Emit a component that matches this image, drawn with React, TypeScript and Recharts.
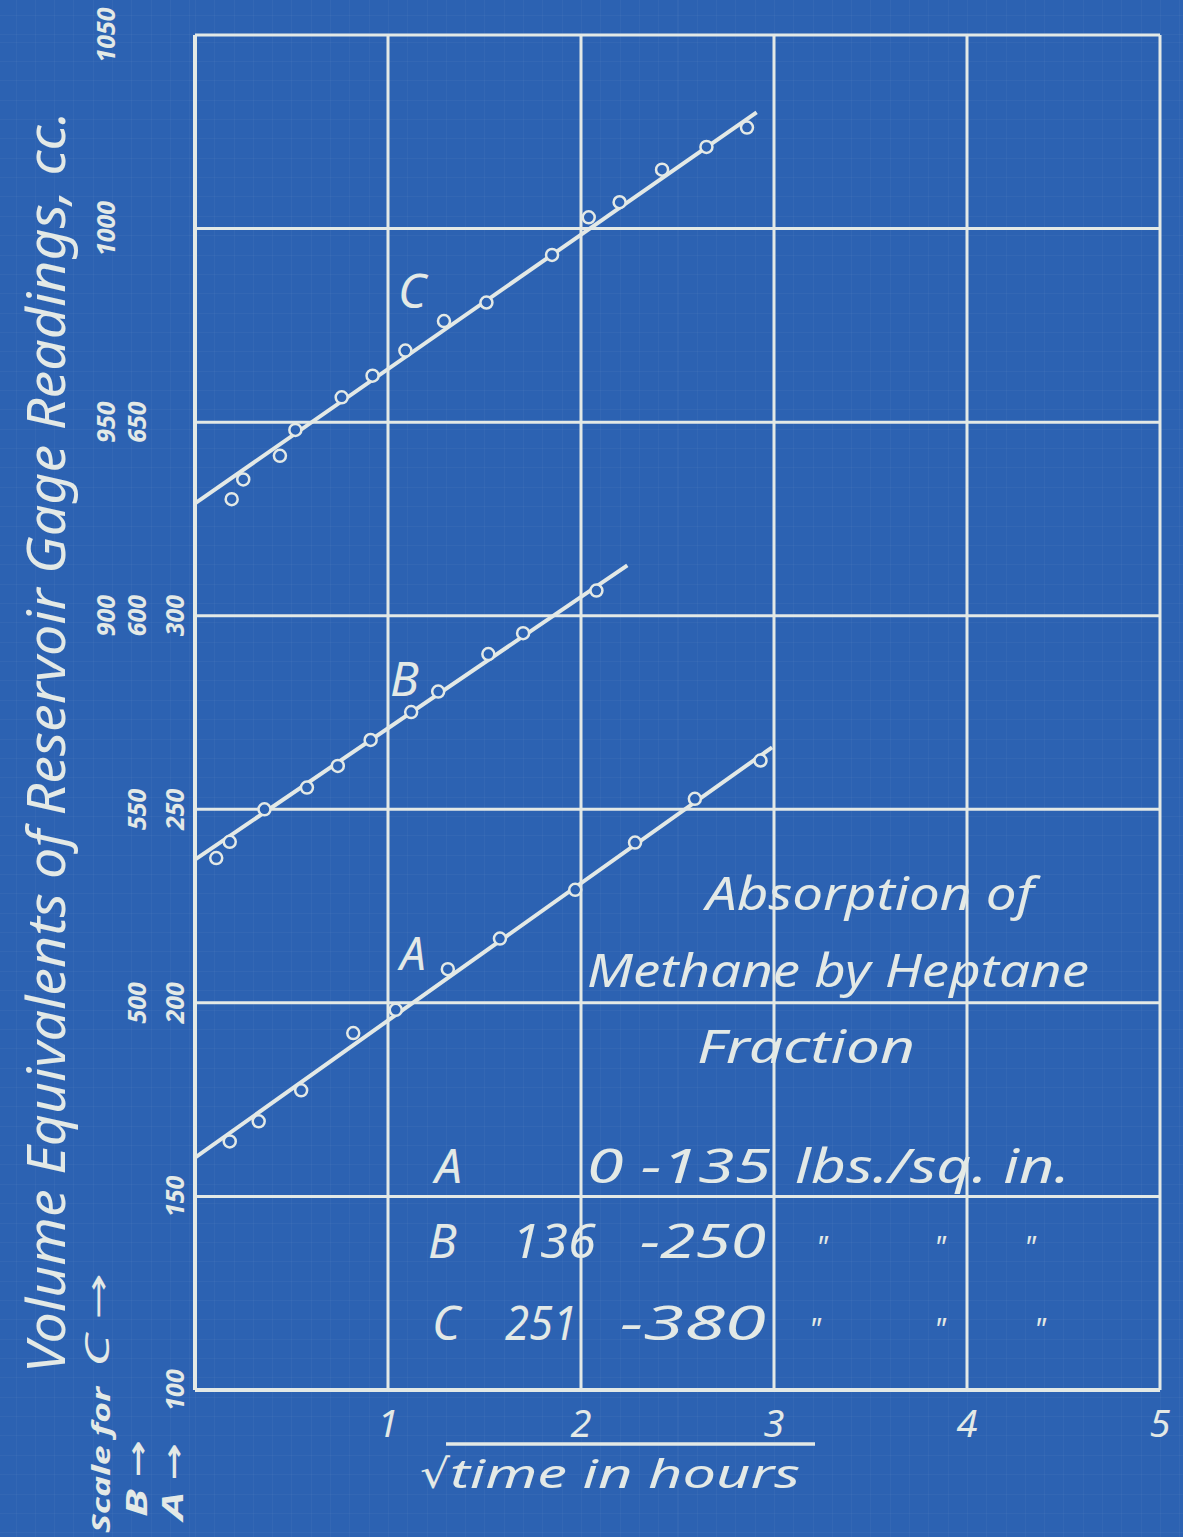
import { ComposedChart, Line, Scatter, XAxis, YAxis, ReferenceLine } from "recharts";

const BLUE = "#2c62b2";
const INK = "#e3e9e6";
const FONT = "'Noto Sans', 'DejaVu Sans', sans-serif";

// sqrt(time) positions and gage readings, each curve on its own scale
const aX = [0.18, 0.33, 0.55, 0.82, 1.04, 1.31, 1.58, 1.97, 2.28, 2.59, 2.93];
const aY = [164.2, 169.4, 177.4, 192.2, 198.2, 208.7, 216.6, 229.2, 241.4, 252.7, 262.6];
const bX = [0.11, 0.18, 0.36, 0.58, 0.74, 0.91, 1.12, 1.26, 1.52, 1.7, 2.08];
const bY = [537.4, 541.6, 550.0, 555.6, 561.2, 567.9, 575.1, 580.4, 590.1, 595.5, 606.5];
const cX = [0.19, 0.25, 0.44, 0.52, 0.76, 0.92, 1.09, 1.29, 1.51, 1.85, 2.04, 2.2, 2.42, 2.65, 2.86];
const cY = [930.1, 935.2, 941.3, 948.0, 956.4, 962.0, 968.5, 976.1, 980.9, 993.2, 1002.9, 1006.8, 1015.2, 1021.1, 1026.1];

// fitted straight lines (end points)
const fitAX = [0, 2.99];
const fitAY = [160, 266];
const fitBX = [0, 2.24];
const fitBY = [537, 613];
const fitCX = [0, 2.91];
const fitCY = [929, 1030];

const xTicks = [1, 2, 3, 4, 5];
const gridX = [0, 1, 2, 3, 4, 5];
const gridY = [100, 150, 200, 250, 300, 350, 400, 450];
const ticksA = [100, 150, 200, 250, 300];
const ticksB = [500, 550, 600, 650];
const ticksC = [900, 950, 1000, 1050];

const zip = (xs: number[], ys: number[]) => xs.map((x, i) => ({ x, y: ys[i] }));

const ptsA = zip(aX, aY);
const ptsB = zip(bX, bY);
const ptsC = zip(cX, cY);
const lineA = zip(fitAX, fitAY);
const lineB = zip(fitBX, fitBY);
const lineC = zip(fitCX, fitCY);

const Ring = (p: any) => (
  <circle cx={p.cx} cy={p.cy} r={6} fill={BLUE} stroke={INK} strokeWidth={2.5} />
);

const makeYTick = (dx: number) => (p: any) => (
  <text
    transform={`translate(${p.x + dx},${p.y}) rotate(-90)`}
    textAnchor="middle"
    dominantBaseline="central"
    fill={INK}
    fontFamily={FONT}
    fontStyle="italic"
    fontWeight={700}
    fontSize={25}
  >
    {p.payload.value}
  </text>
);

const XTick = (p: any) => (
  <text
    x={p.x}
    y={p.y + 45}
    textAnchor="middle"
    fill={INK}
    fontFamily={FONT}
    fontStyle="italic"
    fontSize={38}
  >
    {p.payload.value}
  </text>
);

function Vert({ x, y, size, len, weight, children }: any) {
  return (
    <text
      transform={`translate(${x},${y}) rotate(-90)`}
      fill={INK}
      fontFamily={FONT}
      fontStyle="italic"
      fontWeight={weight ?? 400}
      fontSize={size}
      textLength={len}
      lengthAdjust="spacingAndGlyphs"
    >
      {children}
    </text>
  );
}

function T({ x, y, size = 46, len, children, anchor }: any) {
  return (
    <text
      x={x}
      y={y}
      fill={INK}
      fontFamily={FONT}
      fontStyle="italic"
      fontSize={size}
      textLength={len}
      lengthAdjust={len ? "spacingAndGlyphs" : undefined}
      textAnchor={anchor ?? "start"}
    >
      {children}
    </text>
  );
}

export default function App() {
  return (
    <div
      style={{
        position: "absolute",
        left: 0,
        top: 0,
        width: 1183,
        height: 1537,
        backgroundColor: BLUE,
        backgroundImage:
          "repeating-linear-gradient(90deg, rgba(255,255,255,0.03) 0 1px, transparent 1px 19.3px), repeating-linear-gradient(0deg, rgba(255,255,255,0.03) 0 1px, transparent 1px 19.36px)",
        backgroundPosition: "195px 35px",
        overflow: "hidden",
      }}
    >
      <ComposedChart
        width={1183}
        height={1537}
        margin={{ top: 35, right: 23, bottom: 87, left: 0 }}
      >
        <XAxis
          xAxisId={0}
          dataKey="x"
          type="number"
          domain={[0, 5]}
          ticks={xTicks}
          tick={XTick}
          tickSize={0}
          axisLine={false}
          tickLine={false}
          height={60}
          allowDataOverflow
        />
        <YAxis
          yAxisId="A"
          dataKey="y"
          type="number"
          domain={[100, 450]}
          ticks={ticksA}
          tick={makeYTick(-19)}
          tickSize={0}
          axisLine={false}
          tickLine={false}
          width={65}
          interval={0}
        />
        <YAxis
          yAxisId="B"
          dataKey="y"
          type="number"
          domain={[400, 750]}
          ticks={ticksB}
          tick={makeYTick(8)}
          tickSize={0}
          axisLine={false}
          tickLine={false}
          width={65}
          interval={0}
        />
        <YAxis
          yAxisId="C"
          dataKey="y"
          type="number"
          domain={[700, 1050]}
          ticks={ticksC}
          tick={makeYTick(42)}
          tickSize={0}
          axisLine={false}
          tickLine={false}
          width={65}
          interval={0}
        />
        {gridY.map((v) => (
          <ReferenceLine
            key={`gy${v}`}
            yAxisId="A"
            y={v}
            stroke={INK}
            strokeWidth={v === 100 ? 4 : 3}
          />
        ))}
        {gridX.map((v) => (
          <ReferenceLine
            key={`gx${v}`}
            yAxisId="A"
            x={v}
            stroke={INK}
            strokeWidth={v === 0 ? 4 : 3}
          />
        ))}
        <Line data={lineA} yAxisId="A" dataKey="y" stroke={INK} strokeWidth={4} dot={false} isAnimationActive={false} />
        <Line data={lineB} yAxisId="B" dataKey="y" stroke={INK} strokeWidth={4} dot={false} isAnimationActive={false} />
        <Line data={lineC} yAxisId="C" dataKey="y" stroke={INK} strokeWidth={4} dot={false} isAnimationActive={false} />
        <Scatter data={ptsA} yAxisId="A" dataKey="y" shape={Ring} isAnimationActive={false} />
        <Scatter data={ptsB} yAxisId="B" dataKey="y" shape={Ring} isAnimationActive={false} />
        <Scatter data={ptsC} yAxisId="C" dataKey="y" shape={Ring} isAnimationActive={false} />
      </ComposedChart>

      <svg
        width={1183}
        height={1537}
        style={{ position: "absolute", left: 0, top: 0, pointerEvents: "none" }}
      >
        <Vert x={65} y={1373} size={52} len={1262}>
          Volume Equivalents of Reservoir Gage Readings, cc.
        </Vert>
        <Vert x={110} y={1533} size={25} len={146} weight={700}>
          Scale for
        </Vert>
        <Vert x={109} y={1367} size={32} len={94}>
          C →
        </Vert>
        <Vert x={147} y={1517} size={28} len={77} weight={700}>
          B →
        </Vert>
        <Vert x={183} y={1520} size={28} len={77} weight={700}>
          A →
        </Vert>

        <T x={420} y={1488} size={40} len={30}>√</T>
        <line x1={446} y1={1444} x2={815} y2={1444} stroke={INK} strokeWidth={3.5} />
        <T x={450} y={1488} size={40} len={350}>time in hours</T>

        <T x={398} y={308} size={48}>C</T>
        <T x={390} y={696} size={48}>B</T>
        <T x={400} y={970} size={46}>A</T>

        <T x={706} y={910} len={328}>Absorption of</T>
        <T x={587} y={987} len={502}>Methane by Heptane</T>
        <T x={697} y={1063} len={218}>Fraction</T>

        <T x={435} y={1183} size={48}>A</T>
        <T x={587} y={1183} size={48} len={184}>0 -135</T>
        <T x={795} y={1183} size={48} len={275}>lbs./sq. in.</T>

        <T x={428} y={1258} size={48}>B</T>
        <T x={512} y={1258} size={48} len={84}>136</T>
        <T x={640} y={1258} size={48} len={126}>-250</T>
        <T x={822} y={1258} size={30} anchor="middle">"</T>
        <T x={940} y={1258} size={30} anchor="middle">"</T>
        <T x={1030} y={1258} size={30} anchor="middle">"</T>

        <T x={432} y={1340} size={48}>C</T>
        <T x={505} y={1340} size={48} len={72}>251</T>
        <T x={620} y={1340} size={48} len={146}>-380</T>
        <T x={815} y={1340} size={30} anchor="middle">"</T>
        <T x={940} y={1340} size={30} anchor="middle">"</T>
        <T x={1040} y={1340} size={30} anchor="middle">"</T>
      </svg>
    </div>
  );
}
